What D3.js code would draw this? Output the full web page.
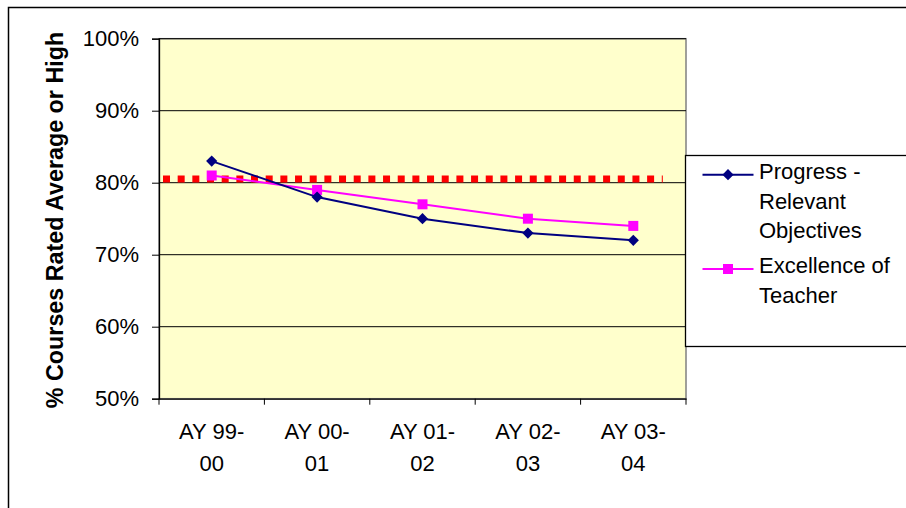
<!DOCTYPE html>
<html>
<head>
<meta charset="utf-8">
<script src="https://cdn.jsdelivr.net/npm/d3@7"></script>
<style>
  body { margin: 0; background: #fff; }
  svg { display: block; font-family: "Liberation Sans", Arial, sans-serif; }
</style>
</head>
<body>
<div id="chart"></div>
<script>
const categories = ["AY 99-00", "AY 00-01", "AY 01-02", "AY 02-03", "AY 03-04"];
const categoryLines = [["AY 99-", "00"], ["AY 00-", "01"], ["AY 01-", "02"], ["AY 02-", "03"], ["AY 03-", "04"]];
const progress = [0.83, 0.78, 0.75, 0.73, 0.72];
const excellence = [0.81, 0.79, 0.77, 0.75, 0.74];
const target = 0.805;
const yTicks = [0.5, 0.6, 0.7, 0.8, 0.9, 1.0];
const seriesNames = [["Progress -", "Relevant", "Objectives"], ["Excellence of", "Teacher"]];

const W = 906, H = 508;
const margin = {top: 38.7, left: 159, right: 220, bottom: 109.3};
const width = W - margin.left - margin.right,
      height = H - margin.top - margin.bottom;

const svg = d3.select("#chart").append("svg")
    .attr("width", W)
    .attr("height", H);

// outer chart border (runs off the right and bottom)
svg.append("rect")
    .attr("x", 8.5).attr("y", 7.5)
    .attr("width", W + 20).attr("height", H + 20)
    .attr("fill", "#fff").attr("stroke", "#000").attr("stroke-width", 1.5);

const g = svg.append("g").attr("transform", `translate(${margin.left},${margin.top})`);

const x = d3.scaleBand().domain(categories).range([0, width]).padding(0);
const y = d3.scaleLinear().domain([0.5, 1.0]).range([height, 0]);

// plot area
g.append("rect")
    .attr("width", width).attr("height", height)
    .attr("fill", "#FFFFCC").attr("stroke", "#808080").attr("stroke-width", 1.5);

// gridlines
g.selectAll(".grid").data(yTicks.slice(1))
    .enter().append("line")
    .attr("x1", 0).attr("x2", width)
    .attr("y1", d => y(d)).attr("y2", d => y(d))
    .attr("stroke", "#000").attr("stroke-width", 1);

// y axis
const yAxis = g.append("g")
    .call(d3.axisLeft(y).tickValues(yTicks).tickFormat(d3.format(".0%")).tickSize(7).tickPadding(13));
yAxis.select(".domain").attr("stroke", "#000").attr("stroke-width", 1.3);
yAxis.selectAll(".tick line").attr("stroke", "#000");
yAxis.selectAll("text").attr("font-size", 22).attr("fill", "#000")
    .attr("font-family", "Liberation Sans, Arial, sans-serif");

// x axis
const xAxis = g.append("g").attr("transform", `translate(0,${height})`)
    .call(d3.axisBottom(x).tickSize(0).tickFormat(""));
xAxis.select(".domain").attr("stroke", "#000").attr("stroke-width", 1.3);
const bounds = categories.map(c => x(c)).concat([width]);
xAxis.selectAll(".bound").data(bounds).enter().append("line")
    .attr("x1", d => d).attr("x2", d => d)
    .attr("y1", 0).attr("y2", 6)
    .attr("stroke", "#000");

const labels = g.selectAll(".xlab").data(categories).enter().append("text")
    .attr("text-anchor", "middle")
    .attr("font-size", 22)
    .attr("fill", "#000");
labels.each(function(d, i) {
    const t = d3.select(this);
    categoryLines[i].forEach((ln, j) => {
        t.append("tspan")
            .attr("x", x(d) + x.bandwidth() / 2)
            .attr("y", height + 40.5 + j * 31.7)
            .text(ln);
    });
});

// y axis title
svg.append("text")
    .attr("transform", `translate(63,${(28.3 + 411.7) / 2}) rotate(-90)`)
    .attr("text-anchor", "middle")
    .attr("font-size", 23.3)
    .attr("font-weight", "bold")
    .text("% Courses Rated Average or High");

// red dotted target line
g.append("line")
    .attr("x1", x(categories[0]) + 4)
    .attr("x2", x(categories[categories.length - 1]) + x.bandwidth() * 0.78)
    .attr("y1", y(target)).attr("y2", y(target))
    .attr("stroke", "#FF0000").attr("stroke-width", 7)
    .attr("stroke-dasharray", "7,7.67");

const cx = d => x(d) + x.bandwidth() / 2;
const line = d3.line().x((d, i) => cx(categories[i])).y(d => y(d));

// Excellence of Teacher
g.append("path").datum(excellence)
    .attr("d", line).attr("fill", "none")
    .attr("stroke", "#FF00FF").attr("stroke-width", 2);
g.selectAll(".sq").data(excellence).enter().append("rect")
    .attr("x", (d, i) => cx(categories[i]) - 5)
    .attr("y", d => y(d) - 5)
    .attr("width", 10).attr("height", 10)
    .attr("fill", "#FF00FF");

// Progress - Relevant Objectives
g.append("path").datum(progress)
    .attr("d", line).attr("fill", "none")
    .attr("stroke", "#000080").attr("stroke-width", 2);
g.selectAll(".dm").data(progress).enter().append("path")
    .attr("transform", (d, i) => `translate(${cx(categories[i])},${y(d)})`)
    .attr("d", "M0,-5.6L5.6,0L0,5.6L-5.6,0Z")
    .attr("fill", "#000080");

// legend
const lg = svg.append("g").attr("transform", "translate(685.5,155.5)");
lg.append("rect")
    .attr("width", 240).attr("height", 191)
    .attr("fill", "#fff").attr("stroke", "#000").attr("stroke-width", 1.3);

const legendItems = [
    {names: seriesNames[0], color: "#000080", shape: "diamond", base: 23.5},
    {names: seriesNames[1], color: "#FF00FF", shape: "square", base: 117.8}
];
legendItems.forEach(it => {
    const my = it.base - 4.3;
    lg.append("line")
        .attr("x1", 17).attr("x2", 68)
        .attr("y1", my).attr("y2", my)
        .attr("stroke", it.color).attr("stroke-width", 2);
    if (it.shape === "diamond") {
        lg.append("path")
            .attr("transform", `translate(42.5,${my})`)
            .attr("d", "M0,-5.6L5.6,0L0,5.6L-5.6,0Z")
            .attr("fill", it.color);
    } else {
        lg.append("rect")
            .attr("x", 37.5).attr("y", my - 5)
            .attr("width", 10).attr("height", 10)
            .attr("fill", it.color);
    }
    const t = lg.append("text").attr("font-size", 22).attr("fill", "#000");
    it.names.forEach((n, j) => {
        t.append("tspan").attr("x", 73.5).attr("y", it.base + j * 29.5).text(n);
    });
});
</script>
</body>
</html>
